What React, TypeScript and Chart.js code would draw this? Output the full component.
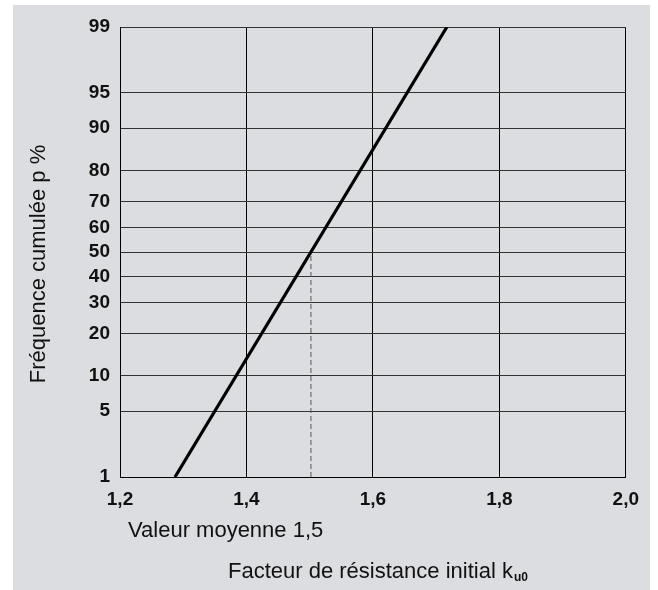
import React, { useEffect, useRef } from "react";
import { Chart, registerables } from "chart.js";

Chart.register(...registerables);

// Data
const xTicks = [1.2, 1.4, 1.6, 1.8, 2.0];
const pTicks = [1, 5, 10, 20, 30, 40, 50, 60, 70, 80, 90, 95, 99];
const lineX = [1.287, 1.717];
const lineP = [1, 99];
const meanX = [1.502, 1.502];
const meanP = [1, 50];

const yTitle = "Fréquence cumulée p %";
const meanLabel = "Valeur moyenne 1,5";
const xTitle = "Facteur de résistance initial k";
const xTitleSub = "u0";

// normal quantile (probability-paper scale transform)
function probit(p: number): number {
  const a = [-3.969683028665376e1, 2.209460984245205e2, -2.759285104469687e2, 1.38357751867269e2, -3.066479806614716e1, 2.506628277459239];
  const b = [-5.447609879822406e1, 1.615858368580409e2, -1.556989798598866e2, 6.680131188771972e1, -1.328068155288572e1];
  const c = [-7.784894002430293e-3, -3.223964580411365e-1, -2.400758277161838, -2.549732539343734, 4.374664141464968, 2.938163982698783];
  const d = [7.784695709041462e-3, 3.224671290700398e-1, 2.445134137142996, 3.754408661907416];
  const plow = 0.02425;
  const phigh = 1 - plow;
  let q: number, r: number;
  if (p < plow) {
    q = Math.sqrt(-2 * Math.log(p));
    return (((((c[0] * q + c[1]) * q + c[2]) * q + c[3]) * q + c[4]) * q + c[5]) / ((((d[0] * q + d[1]) * q + d[2]) * q + d[3]) * q + 1);
  }
  if (p <= phigh) {
    q = p - 0.5;
    r = q * q;
    return ((((((a[0] * r + a[1]) * r + a[2]) * r + a[3]) * r + a[4]) * r + a[5]) * q) / (((((b[0] * r + b[1]) * r + b[2]) * r + b[3]) * r + b[4]) * r + 1);
  }
  q = Math.sqrt(-2 * Math.log(1 - p));
  return -(((((c[0] * q + c[1]) * q + c[2]) * q + c[3]) * q + c[4]) * q + c[5]) / ((((d[0] * q + d[1]) * q + d[2]) * q + d[3]) * q + 1);
}

const FONT = "'Liberation Sans', Arial, sans-serif";

const textPlugin = {
  id: "texts",
  afterDraw(chart: any) {
    const ctx = chart.ctx as CanvasRenderingContext2D;
    ctx.save();
    ctx.fillStyle = "#111";
    ctx.font = `22px ${FONT}`;
    // y title
    ctx.save();
    ctx.translate(26, 259);
    ctx.rotate(-Math.PI / 2);
    ctx.textAlign = "center";
    ctx.textBaseline = "middle";
    ctx.fillText(yTitle, 0, 0);
    ctx.restore();
    // mean label
    ctx.textAlign = "left";
    ctx.textBaseline = "alphabetic";
    ctx.fillText(meanLabel, 115, 532);
    // x title
    ctx.fillText(xTitle, 215, 573);
    const w = ctx.measureText(xTitle).width;
    ctx.font = `bold 12px ${FONT}`;
    ctx.fillText(xTitleSub, 215 + w + 1, 576);
    ctx.restore();
  },
};

export default function App() {
  const ref = useRef<HTMLCanvasElement | null>(null);
  useEffect(() => {
    if (!ref.current) return;
    const chart = new Chart(ref.current, {
      type: "line",
      data: {
        datasets: [
          {
            data: lineX.map((x, i) => ({ x, y: probit(lineP[i] / 100) })),
            borderColor: "#000",
            borderWidth: 3.2,
            pointRadius: 0,
            fill: false,
          },
          {
            data: meanX.map((x, i) => ({ x, y: probit(meanP[i] / 100) })),
            borderColor: "#555",
            borderWidth: 1,
            borderDash: [5, 3],
            pointRadius: 0,
            fill: false,
          },
        ],
      },
      options: {
        animation: false,
        responsive: true,
        maintainAspectRatio: false,
        layout: { padding: { top: 22, right: 24, left: 0, bottom: 0 } },
        plugins: { legend: { display: false }, tooltip: { enabled: false } },
        scales: {
          x: {
            type: "linear",
            min: 1.2,
            max: 2.0,
            afterBuildTicks: (axis: any) => {
              axis.ticks = xTicks.map((v) => ({ value: v }));
            },
            afterFit: (axis: any) => {
              axis.height = 113;
            },
            ticks: {
              padding: 11,
              color: "#111",
              font: { family: FONT, size: 19, weight: "bold" },
              callback: (v: any) => Number(v).toFixed(1).replace(".", ","),
              maxRotation: 0,
            },
            grid: { color: "#000", lineWidth: 1, drawTicks: false },
            border: { color: "#000", width: 1 },
          },
          y: {
            type: "linear",
            min: probit(0.01),
            max: probit(0.99),
            afterBuildTicks: (axis: any) => {
              axis.ticks = pTicks.map((p) => ({ value: probit(p / 100) }));
            },
            afterFit: (axis: any) => {
              axis.width = 107;
            },
            ticks: {
              padding: 10,
              color: "#111",
              font: { family: FONT, size: 19, weight: "bold" },
              callback: (_v: any, i: number) => String(pTicks[i]),
            },
            grid: { color: "#333", lineWidth: 1, drawTicks: false },
            border: { color: "#000", width: 1 },
          },
        },
      },
      plugins: [textPlugin],
    } as any);
    return () => chart.destroy();
  }, []);

  return (
    <div
      style={{
        position: "absolute",
        left: 13,
        top: 5,
        width: 637,
        height: 585,
        background: "#dcdde0",
      }}
    >
      <canvas ref={ref} />
    </div>
  );
}
